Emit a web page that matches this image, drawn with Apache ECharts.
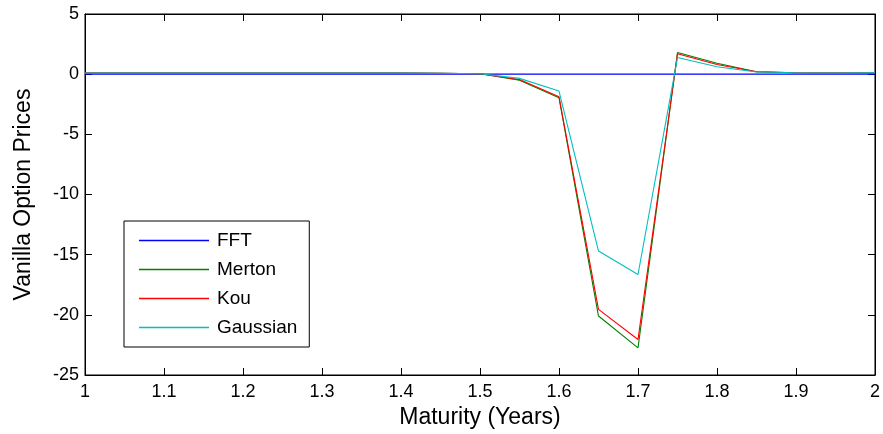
<!DOCTYPE html>
<html>
<head>
<meta charset="utf-8">
<script src="https://cdn.jsdelivr.net/npm/echarts@6/dist/echarts.min.js"></script>
<style>
html,body{margin:0;padding:0;background:#fff;}
#chart{width:883px;height:434px;}
</style>
</head>
<body>
<div id="chart"></div>
<script>
var maturities = [1.00,1.05,1.10,1.15,1.20,1.25,1.30,1.35,1.40,1.45,1.50,1.55,1.60,1.65,1.70,1.75,1.80,1.85,1.90,1.95,2.00];
var fft      = [0,0,0,0,0,0,0,0,0,0,0,0,0,0,0,0,0,0,0,0,0];
var merton   = [0.1,0.1,0.1,0.1,0.1,0.1,0.1,0.1,0.1,0.08,0.03,-0.5,-1.95,-20.1,-22.75,1.8,0.9,0.2,0.12,0.1,0.1];
var kou      = [0.1,0.1,0.1,0.1,0.1,0.1,0.1,0.1,0.1,0.08,0.03,-0.45,-1.88,-19.55,-22.05,1.7,0.8,0.2,0.12,0.1,0.1];
var gaussian = [0.1,0.1,0.1,0.1,0.1,0.1,0.1,0.1,0.1,0.08,0.04,-0.35,-1.4,-14.7,-16.65,1.38,0.62,0.18,0.12,0.1,0.12];
var seriesNames = ['FFT','Merton','Kou','Gaussian'];
var seriesColors = ['#0000ff','#008000','#ff0000','#00bfbf'];
var xTicks = {min:1, max:2, interval:0.1};
var yTicks = {min:-25, max:5, interval:5};

var FONT = 'Liberation Sans, Arial, sans-serif';
function pairs(arr){ return maturities.map(function(x,i){ return [x, arr[i]]; }); }
var allData = [fft, merton, kou, gaussian];

var chart = echarts.init(document.getElementById('chart'), null, {renderer:'canvas'});
var axisCommon = {
  axisLine:{show:true, onZero:false, lineStyle:{color:'#000', width:1}},
  axisTick:{show:true, inside:true, length:7, lineStyle:{color:'#000', width:1}},
  splitLine:{show:false}
};
chart.setOption({
  animation:false,
  backgroundColor:'#fff',
  grid:{left:85, right:7, top:14, bottom:59, show:true, borderColor:'#000', borderWidth:1, backgroundColor:'transparent'},
  xAxis:[
    Object.assign({type:'value', position:'bottom', min:xTicks.min, max:xTicks.max, interval:xTicks.interval,
      name:'Maturity (Years)', nameLocation:'middle', nameGap:30,
      nameTextStyle:{fontFamily:FONT, fontSize:23, color:'#000'},
      axisLabel:{fontFamily:FONT, fontSize:18, color:'#000', margin:8,
        formatter:function(v){ return String(Math.round(v*10)/10); }}
    }, axisCommon),
    Object.assign({type:'value', position:'top', min:xTicks.min, max:xTicks.max, interval:xTicks.interval,
      axisLabel:{show:false}}, axisCommon)
  ],
  yAxis:[
    Object.assign({type:'value', position:'left', min:yTicks.min, max:yTicks.max, interval:yTicks.interval,
      name:'Vanilla Option Prices', nameLocation:'middle', nameGap:50,
      nameTextStyle:{fontFamily:FONT, fontSize:23, color:'#000'},
      axisLabel:{fontFamily:FONT, fontSize:18, color:'#000', margin:6}
    }, axisCommon),
    Object.assign({type:'value', position:'right', min:yTicks.min, max:yTicks.max, interval:yTicks.interval,
      axisLabel:{show:false}}, axisCommon)
  ],
  legend:{
    orient:'vertical', left:124, top:221,
    backgroundColor:'#fff', borderColor:'#000', borderWidth:1,
    padding:[10,12,10,15], itemGap:10, itemWidth:70, itemHeight:1.5,
    icon:'rect',
    textStyle:{fontFamily:FONT, fontSize:19, color:'#000', padding:[0,0,0,3]},
    data:seriesNames
  },
  series: seriesNames.map(function(n,i){
    return {name:n, type:'line', xAxisIndex:0, yAxisIndex:0, data:pairs(allData[i]),
      symbol:'none', showSymbol:false, color:seriesColors[i],
      lineStyle:{color:seriesColors[i], width:1.1}, itemStyle:{color:seriesColors[i]}, z:2+i};
  })
});
</script>
</body>
</html>
